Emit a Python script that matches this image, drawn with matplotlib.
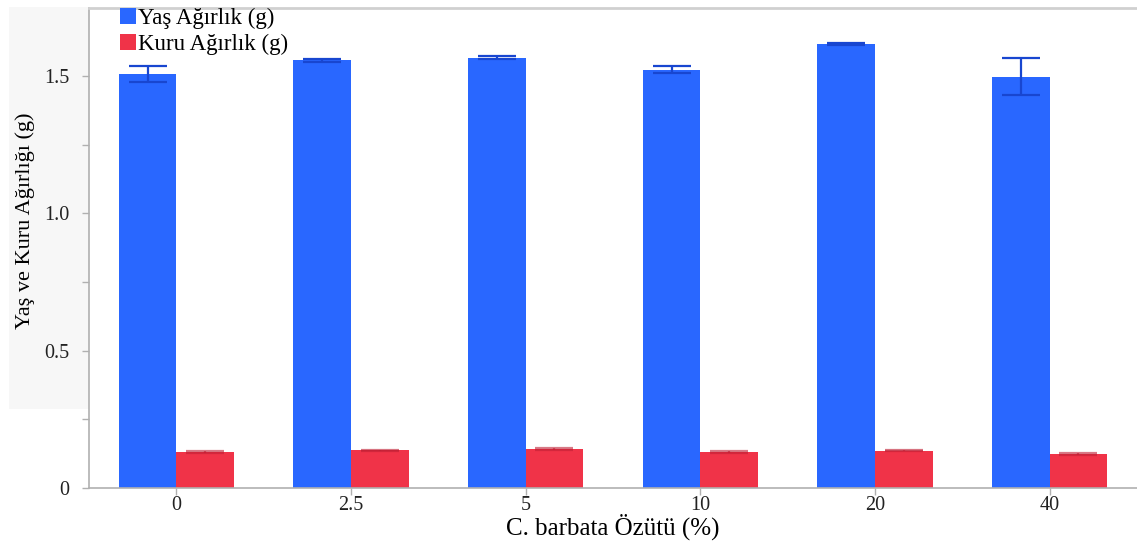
import matplotlib.pyplot as plt
from matplotlib.patches import Rectangle
import numpy as np

plt.rcParams['font.family'] = ['Liberation Serif', 'DejaVu Serif']

# data
doses = ["0", "2.5", "5", "10", "20", "40"]
yas = [1.507, 1.557, 1.567, 1.524, 1.618, 1.498]
yas_err = [0.030, 0.005, 0.005, 0.013, 0.003, 0.067]
kuru = [0.131, 0.138, 0.142, 0.131, 0.135, 0.124]
kuru_err = [0.004, 0.002, 0.002, 0.004, 0.002, 0.004]
yticks = [0, 0.5, 1.0, 1.5]
ytick_labels = ["0", "0.5", "1.0", "1.5"]

blue = "#2967ff"
red = "#f03348"
grey = "#b0b0b0"

fig = plt.figure(figsize=(11.37, 5.42), dpi=100)
# light panel behind the y label
fig.add_artist(Rectangle((9 / 1137, 1 - 409 / 542), 80 / 1137, 402 / 542,
                         transform=fig.transFigure, facecolor="#f7f7f7",
                         edgecolor="none", zorder=-1))

ax = fig.add_axes([89 / 1137, 1 - 488 / 542, 1 - 89 / 1137, 480.5 / 542])
ax.set_facecolor("white")

x = np.arange(len(doses))
w = 0.33
ax.bar(x - w / 2, yas, w, color=blue, label="Yaş Ağırlık (g)", zorder=2)
ax.bar(x + w / 2, kuru, w, color=red, label="Kuru Ağırlık (g)", zorder=2)
ax.errorbar(x - w / 2, yas, yerr=yas_err, fmt="none", ecolor="#1846d0",
            elinewidth=1.6, capsize=13.5, capthick=1.6, zorder=3)
ax.errorbar(x + w / 2, kuru, yerr=kuru_err, fmt="none", ecolor="#c02035",
            elinewidth=1.6, capsize=13.5, capthick=1.6, alpha=0.6, zorder=3)

ax.set_xlim(-0.5, 5.5)
ax.set_ylim(0, 1.75)
ax.set_xticks(x)
ax.set_xticklabels(doses)
ax.set_yticks(yticks)
ax.set_yticklabels(ytick_labels)
ax.set_yticks([0.25, 0.75, 1.25], minor=True)

ax.spines["right"].set_visible(False)
for s in ["left", "bottom"]:
    ax.spines[s].set_color(grey)
    ax.spines[s].set_linewidth(1.2)
ax.spines["top"].set_color("#d0d0d0")
ax.spines["top"].set_linewidth(2)

ax.tick_params(axis="both", which="both", color=grey, length=5, width=1,
               labelsize=14.5, labelcolor="#222222")
ax.tick_params(axis="y", pad=9)
ax.tick_params(axis="x", pad=1)

fig.text(613 / 1137, 1 - 535 / 542, "C. barbata Özütü (%)", ha="center",
         va="baseline", fontsize=18)
fig.text(25 / 1137, 1 - 221 / 542, "Yaş ve Kuru Ağırlığı (g)", rotation=90,
         ha="center", va="center", fontsize=16)

ax.legend(loc="upper left", bbox_to_anchor=(31 / 1048, 1.0), frameon=False,
          fontsize=16.5, handlelength=0.68, handleheight=0.68, handletextpad=0.12,
          labelspacing=0.22, borderpad=0.0, borderaxespad=0)

fig.savefig("out.png", dpi=100)
